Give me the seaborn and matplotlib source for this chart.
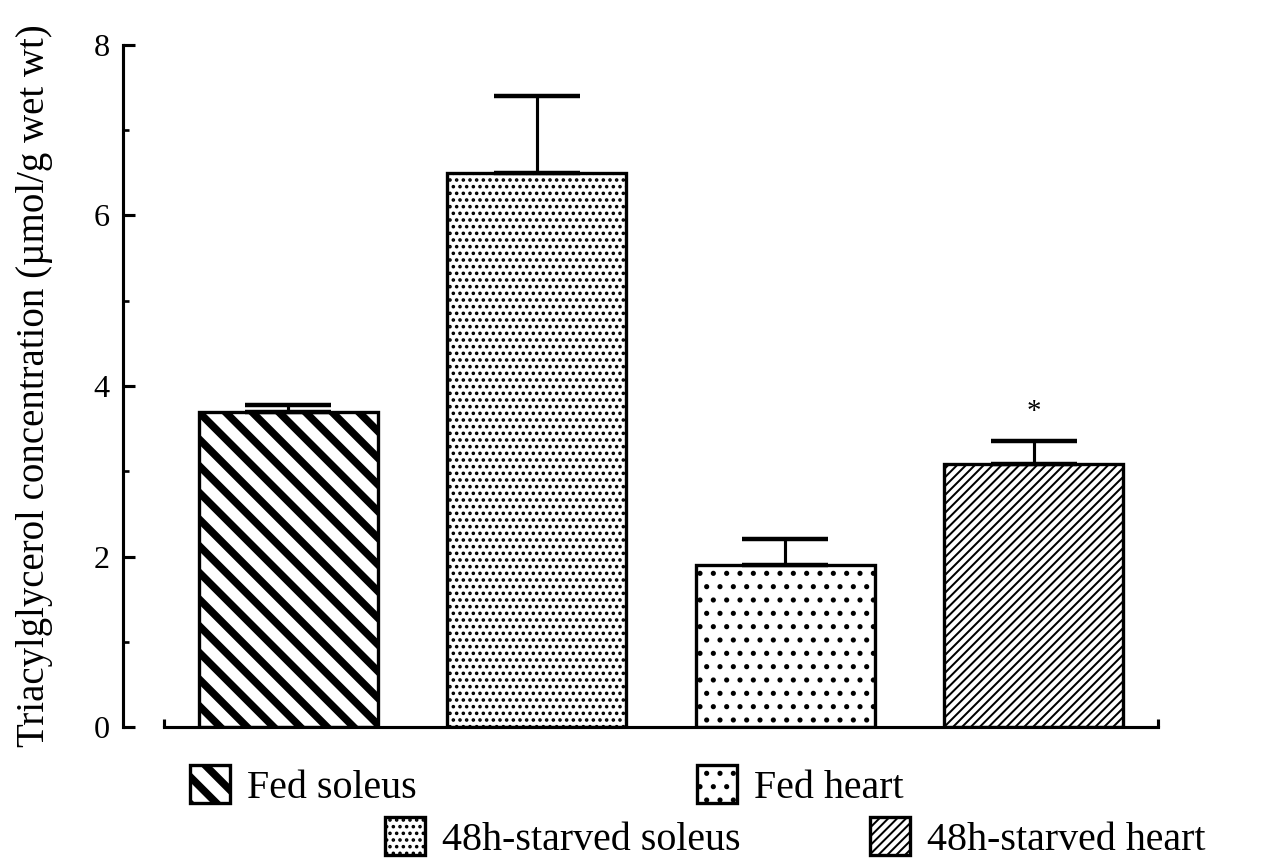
import matplotlib
matplotlib.use("Agg")
import matplotlib.pyplot as plt
import seaborn as sns
import pandas as pd
from matplotlib.patches import Patch

# ---- data ----
categories = ["Fed soleus", "48h-starved soleus", "Fed heart", "48h-starved heart"]
values = [3.70, 6.50, 1.90, 3.08]
errors = [0.08, 0.90, 0.30, 0.27]
significance = ["", "", "", "*"]
y_ticks = [0, 2, 4, 6, 8]
y_label = "Triacylglycerol concentration (µmol/g wet wt)"

# ---- styles ----
hatches = ["\\\\", "....", "..", "//////"]
hatch_lws = [3.4, 1.0, 1.1, 0.9]

sns.set_style("ticks")
plt.rcParams["font.family"] = ["Liberation Serif", "DejaVu Serif"]
plt.rcParams["hatch.color"] = "black"
for k in ("text.color", "axes.labelcolor", "xtick.color", "ytick.color", "axes.edgecolor"):
    plt.rcParams[k] = "black"

DPI = 160
fig = plt.figure(figsize=(1263 / DPI, 863 / DPI), dpi=DPI)
ax = fig.add_axes([164 / 1263, 1 - 727 / 863, (1158 - 164) / 1263, (727 - 45) / 863])

df = pd.DataFrame({"cat": categories, "val": values})
sns.barplot(data=df, x="cat", y="val", hue="cat", order=categories, hue_order=categories,
            palette=["white"] * 4, legend=False, width=0.72, edgecolor="black",
            linewidth=1.5, ax=ax, saturation=1)

for p, h, hl in zip(ax.patches, hatches, hatch_lws):
    p.set_hatch(h)
    p.set_facecolor("white")
    p.set_edgecolor("black")
    if hasattr(p, "set_hatch_linewidth"):
        p.set_hatch_linewidth(hl)

xpos = list(range(len(categories)))
ax.errorbar(xpos, values, yerr=[[0] * len(errors), errors], fmt="none",
            ecolor="black", elinewidth=1.4, capsize=19.5, capthick=2.0, zorder=1)

for x, v, e, s in zip(xpos, values, errors, significance):
    if s:
        ax.text(x, v + e + 0.34, s, ha="center", va="center", fontsize=13)

ax.set_xlim(-0.5, 3.5)
ax.set_ylim(0, 8)
ax.set_yticks(y_ticks)
ax.set_yticks([1, 3, 5, 7], minor=True)
ax.tick_params(axis="y", which="major", direction="in", length=5.4, width=1.4,
               labelsize=14.5, pad=6)
ax.tick_params(axis="y", which="minor", direction="in", length=2.7, width=1.2)
ax.set_xticks([-0.5, 3.5])
ax.set_xticklabels(["", ""])
ax.tick_params(axis="x", direction="in", length=3.6, width=1.4)
ax.set_xlabel("")
ax.set_ylabel(y_label, fontsize=17.5, labelpad=18)

sns.despine(ax=ax)
ax.spines["left"].set_position(("outward", 18.5))
ax.spines["left"].set_bounds(0, 8)
for s in ("left", "bottom"):
    ax.spines[s].set_linewidth(1.4)

# ---- legend (staggered, 4 single-entry legends) ----
legend_anchor = [(190, 786), (385, 838), (697, 786), (870, 838)]
for cat, h, hl, (px, py) in zip(categories, hatches, hatch_lws, legend_anchor):
    handle = Patch(facecolor="white", edgecolor="black", linewidth=1.5, hatch=h, label=cat)
    if hasattr(handle, "set_hatch_linewidth"):
        handle.set_hatch_linewidth(hl)
    leg = fig.legend(handles=[handle], loc="center left",
                     bbox_to_anchor=(px / 1263, 1 - py / 863), frameon=False,
                     fontsize=18, handlelength=1.0, handleheight=1.05,
                     handletextpad=0.42, borderpad=0, borderaxespad=0)
    for lh in leg.legend_handles:
        if hasattr(lh, "set_hatch_linewidth"):
            lh.set_hatch_linewidth(hl)

fig.savefig("out.png", dpi=DPI)
